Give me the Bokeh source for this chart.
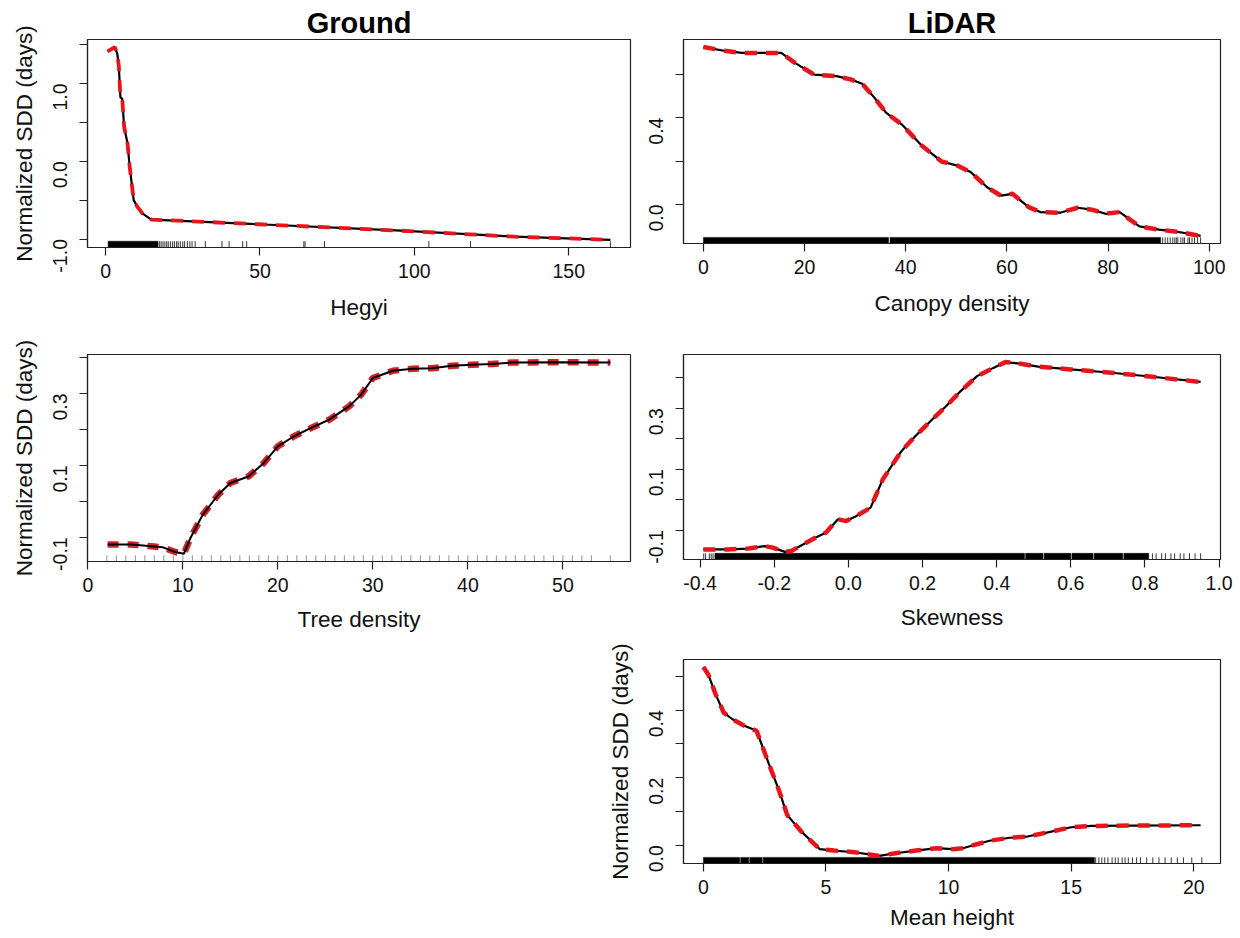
import math
from bokeh.plotting import figure
from bokeh.layouts import column, row
from bokeh.models import FixedTicker, Spacer, Range1d, Title
from bokeh.embed import file_html
from bokeh.resources import INLINE

# ---------------- data ----------------
# Hegyi (Ground)
hegyi_x = [0.65, 3.0, 3.8, 4.3, 4.8, 5.4, 6.0, 7.1, 7.8, 9.1, 10.2, 11.9, 14.8, 49.5, 94.0, 132.5, 163.5]
hegyi_y = [1.41, 1.465, 1.38, 1.21, 0.82, 0.80, 0.44, 0.23, -0.07, -0.50, -0.58, -0.67, -0.75, -0.81, -0.89, -0.97, -1.01]
hegyi_rug_bands = [[0.8, 17.0]]
hegyi_rug_ticks = [17.5, 18.0, 18.6, 19.2, 19.8, 20.3, 21.0, 21.7, 22.3, 23.0, 23.5, 24.2, 25.0,
                   25.6, 26.5, 27.3, 28.0, 29.0, 32.3, 37.7, 40.0, 44.4, 45.7, 64.2, 64.6, 70.9,
                   104.7, 118.2, 163.5]
hegyi_xticks = [0, 50, 100, 150]
hegyi_xlabels = ["0", "50", "100", "150"]
hegyi_yticks = [-1.0, -0.5, 0.0, 0.5, 1.0, 1.5]
hegyi_ylabels = ["-1.0", "", "0.0", "", "1.0", ""]

# Tree density (Ground)
tree_x = [2.08, 4.6, 6.7, 7.9, 9.2, 10.1, 10.8, 12.1, 13.75, 15.0, 16.9, 18.5, 20.0, 21.7, 23.5,
          25.4, 27.5, 28.75, 30.0, 32.1, 34.2, 36.25, 38.3, 40.4, 42.5, 44.6, 49.2, 55.0]
tree_y = [-0.120, -0.120, -0.125, -0.128, -0.141, -0.146, -0.102, -0.037, 0.019, 0.051, 0.069,
          0.106, 0.153, 0.181, 0.204, 0.227, 0.264, 0.296, 0.343, 0.363, 0.369, 0.370, 0.377,
          0.380, 0.382, 0.386, 0.387, 0.386]
tree_rug_bands = []
tree_rug_ticks = [2, 3, 4, 5, 6, 7, 8, 9, 10, 11, 12, 13, 14, 15, 16, 17, 18, 19, 20, 21, 22, 23,
                  24, 25, 26, 27, 28, 29, 30, 31, 32, 33, 34, 35, 36, 37, 38, 39, 40, 41, 42, 43,
                  44, 45, 46, 47, 48, 49, 50, 51, 52, 53, 55]
tree_xticks = [0, 10, 20, 30, 40, 50]
tree_xlabels = ["0", "10", "20", "30", "40", "50"]
tree_yticks = [-0.1, 0.0, 0.1, 0.2, 0.3, 0.4]
tree_ylabels = ["-0.1", "", "0.1", "", "0.3", ""]

# Canopy density (LiDAR)
canopy_x = [0.0, 4.1, 7.6, 11.9, 15.4, 18.1, 21.9, 26.3, 29.1, 31.4, 33.8, 36.1, 39.2, 43.2, 47.1,
            50.2, 52.9, 56.1, 58.8, 61.1, 64.3, 66.6, 70.5, 74.0, 76.8, 79.5, 82.3, 86.2, 90.1,
            94.0, 98.3]
canopy_y = [0.725, 0.708, 0.698, 0.698, 0.698, 0.652, 0.598, 0.591, 0.576, 0.556, 0.492, 0.423,
            0.369, 0.270, 0.198, 0.179, 0.148, 0.079, 0.041, 0.049, -0.012, -0.035, -0.038,
            -0.015, -0.024, -0.043, -0.035, -0.101, -0.116, -0.127, -0.145]
canopy_rug_bands = [[0.0, 36.6], [36.9, 90.4]]
canopy_rug_ticks = [90.8, 91.3, 91.8, 92.3, 92.8, 93.2, 93.5, 93.8, 94.4, 94.8, 95.1, 95.8, 96.1,
                    96.6, 97.1, 97.7, 98.3]
canopy_xticks = [0, 20, 40, 60, 80, 100]
canopy_xlabels = ["0", "20", "40", "60", "80", "100"]
canopy_yticks = [0.0, 0.2, 0.4, 0.6]
canopy_ylabels = ["0.0", "", "0.4", ""]

# Skewness (LiDAR)
skew_x = [-0.391, -0.325, -0.270, -0.226, -0.204, -0.171, -0.154, -0.121, -0.088, -0.061, -0.028,
          -0.006, 0.022, 0.060, 0.093, 0.143, 0.181, 0.226, 0.264, 0.303, 0.347, 0.391, 0.424,
          0.457, 0.512, 0.600, 0.710, 0.820, 0.950]
skew_y = [-0.163, -0.163, -0.160, -0.152, -0.157, -0.171, -0.168, -0.146, -0.124, -0.108, -0.064,
          -0.070, -0.053, -0.026, 0.067, 0.159, 0.209, 0.263, 0.307, 0.356, 0.405, 0.432, 0.451,
          0.447, 0.436, 0.427, 0.416, 0.403, 0.386]
skew_rug_bands = [[-0.36, 0.475], [0.478, 0.525], [0.528, 0.60], [0.603, 0.66], [0.663, 0.74], [0.743, 0.81]]
skew_rug_ticks = [-0.39, -0.385, -0.375, -0.37, -0.365, 0.82, 0.83, 0.845, 0.855, 0.87, 0.88,
                  0.895, 0.905, 0.92, 0.935, 0.95]
skew_xticks = [-0.4, -0.2, 0.0, 0.2, 0.4, 0.6, 0.8, 1.0]
skew_xlabels = ["-0.4", "-0.2", "0.0", "0.2", "0.4", "0.6", "0.8", "1.0"]
skew_yticks = [-0.1, 0.0, 0.1, 0.2, 0.3, 0.4]
skew_ylabels = ["-0.1", "", "0.1", "", "0.3", ""]

# Mean height (LiDAR)
height_x = [0.0, 0.2, 0.5, 0.83, 1.17, 1.67, 2.17, 2.67, 3.08, 3.42, 4.0, 4.75, 5.33, 6.17, 7.17,
            7.83, 8.67, 9.5, 10.17, 10.58, 11.67, 12.5, 13.17, 14.0, 15.0, 15.83, 17.5, 20.28]
height_y = [0.528, 0.506, 0.447, 0.393, 0.374, 0.354, 0.339, 0.241, 0.163, 0.089, 0.040, -0.012,
            -0.016, -0.021, -0.032, -0.024, -0.016, -0.009, -0.012, -0.009, 0.013, 0.022, 0.025,
            0.037, 0.053, 0.057, 0.058, 0.059]
height_rug_bands = [[0.0, 1.48], [1.52, 1.85], [1.89, 2.40], [2.44, 15.95]]
height_rug_ticks = [16.0, 16.13, 16.25, 16.37, 16.5, 16.67, 16.8, 16.92, 17.08, 17.2, 17.33, 17.5,
                    17.67, 17.83, 18.08, 18.33, 18.58, 18.83, 19.08, 19.33, 19.58, 19.92, 20.33]
height_xticks = [0, 5, 10, 15, 20]
height_xlabels = ["0", "5", "10", "15", "20"]
height_yticks = [0.0, 0.1, 0.2, 0.3, 0.4, 0.5]
height_ylabels = ["0.0", "", "0.2", "", "0.4", ""]

YLAB = "Normalized SDD (days)"
FONT = "Liberation Sans"


def rlim(vals):
    lo, hi = min(vals), max(vals)
    d = 0.04 * (hi - lo)
    return lo - d, hi + d


def panel(x, y, bands, ticks, xticks, xlabels, yticks, ylabels, xlabel, ylabel,
          geom, title=None, red="#e8141b", dash_w=4.5, rug_color="black", black_on_top=False,
          xlab_standoff=14):
    left, fw, right, top, fh, bottom = geom
    x0, x1 = rlim(x)
    y0, y1 = rlim(y)
    p = figure(width=left + fw + right, height=top + fh + bottom,
               frame_width=fw, frame_height=fh,
               min_border_left=left, min_border_right=right,
               min_border_top=top, min_border_bottom=bottom,
               x_range=Range1d(x0, x1), y_range=Range1d(y0, y1),
               output_backend="svg", toolbar_location=None)
    p.grid.visible = False
    p.outline_line_color = "#222222"
    p.outline_line_width = 1.2
    p.background_fill_color = "white"
    p.border_fill_color = "white"

    for ax, tk, lb, lab in ((p.xaxis[0], xticks, xlabels, xlabel),
                            (p.yaxis[0], yticks, ylabels, ylabel)):
        ax.ticker = FixedTicker(ticks=tk)
        ax.major_label_overrides = {t: l for t, l in zip(tk, lb)}
        ax.minor_tick_line_color = None
        ax.major_tick_in = 0
        ax.major_tick_out = 8
        ax.axis_line_color = "#222222"
        ax.major_tick_line_color = "#222222"
        ax.axis_line_width = 1.2
        ax.major_tick_line_width = 1.2
        ax.major_label_text_font = FONT
        ax.major_label_text_font_size = "19.5px"
        ax.major_label_text_color = "#111111"
        ax.axis_label = lab
        ax.axis_label_text_font = FONT
        ax.axis_label_text_font_size = "22.5px"
        ax.axis_label_text_font_style = "normal"
        ax.axis_label_text_color = "#111111"
    p.yaxis[0].major_label_orientation = math.pi / 2
    p.xaxis[0].major_label_standoff = 8
    p.xaxis[0].axis_label_standoff = xlab_standoff
    p.yaxis[0].major_label_standoff = 19
    p.yaxis[0].axis_label_standoff = 7

    # rug
    r0 = y0
    r1 = y0 + 0.03 * (y1 - y0)
    if bands:
        p.quad(left=[b[0] for b in bands], right=[b[1] for b in bands],
               bottom=r0, top=r1, fill_color="black", line_color="black", line_width=0.5)
    if ticks:
        p.segment(x0=ticks, x1=ticks, y0=r0, y1=r1, line_color=rug_color, line_width=0.8)

    # curves
    if black_on_top:
        p.line(x, y, line_color=red, line_width=dash_w, line_dash="11 9")
        p.line(x, y, line_color="black", line_width=2.0)
    else:
        p.line(x, y, line_color="black", line_width=2.2)
        p.line(x, y, line_color=red, line_width=dash_w, line_dash="12 9")

    if title:
        t = Title(text=title, align="center", text_font=FONT, text_font_size="29px",
                  text_font_style="bold", text_color="black", standoff=2)
        p.add_layout(t, "above")
    return p


pA = panel(hegyi_x, hegyi_y, hegyi_rug_bands, hegyi_rug_ticks, hegyi_xticks, hegyi_xlabels,
           hegyi_yticks, hegyi_ylabels, "Hegyi", YLAB, (87, 543, 2, 39, 208, 81), title="Ground",
           dash_w=3.8)
pB = panel(canopy_x, canopy_y, canopy_rug_bands, canopy_rug_ticks, canopy_xticks, canopy_xlabels,
           canopy_yticks, canopy_ylabels, "Canopy density", None, (51, 537, 20, 39, 204, 85),
           title="LiDAR")
pC = panel(tree_x, tree_y, tree_rug_bands, tree_rug_ticks, tree_xticks, tree_xlabels,
           tree_yticks, tree_ylabels, "Tree density", YLAB, (87, 543, 2, 26, 207, 82),
           red="#d02228", dash_w=6.5, rug_color="#777777", black_on_top=True, xlab_standoff=12)
pD = panel(skew_x, skew_y, skew_rug_bands, skew_rug_ticks, skew_xticks, skew_xlabels,
           skew_yticks, skew_ylabels, "Skewness", None, (51, 537, 20, 20, 205, 90),
           xlab_standoff=12)
pE = panel(height_x, height_y, height_rug_bands, height_rug_ticks, height_xticks, height_xlabels,
           height_yticks, height_ylabels, "Mean height", YLAB, (93, 537, 20, 16, 204, 75),
           xlab_standoff=8)

layout = column(row(pA, pB), row(pC, pD), row(Spacer(width=590, height=295), pE))
layout.background = "white"

open("out.html", "w").write(file_html(layout, INLINE))
